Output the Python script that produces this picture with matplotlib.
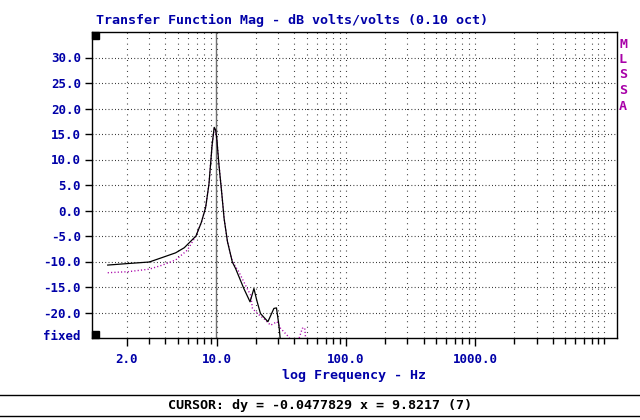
import matplotlib
matplotlib.use("Agg")
import matplotlib.pyplot as plt
import matplotlib.ticker as mticker
import numpy as np

# ---- data ----
freq_black = [1.43, 2.05, 3.0, 3.8, 4.8, 5.6, 6.9, 7.6, 8.2, 8.7, 9.2, 9.55, 9.8,
              10.0, 10.4, 10.9, 11.4, 12.1, 13.2, 14.0, 16.2, 18.1, 19.4, 20.4,
              21.8, 24.9, 27.7, 29.0, 30.3, 31.5]
mag_black = [-10.7, -10.4, -10.1, -9.2, -8.3, -7.3, -5.0, -2.3, 0.6, 5.2, 12.8, 16.3, 15.8,
             14.1, 8.9, 3.7, -1.6, -6.1, -10.1, -11.4, -15.3, -17.9, -15.3, -17.6,
             -20.2, -21.8, -19.2, -19.1, -22.5, -27.0]

freq_magenta = [1.43, 2.05, 3.0, 3.8, 4.8, 5.9, 6.9, 7.6, 8.2, 8.7, 9.2, 9.55, 9.8,
                10.0, 10.4, 10.9, 11.4, 12.1, 13.2, 14.8, 17.2, 18.3, 18.9, 20.6,
                23.2, 26.1, 29.3, 31.2, 36.1, 41.0, 46.0, 48.0, 49.5]
mag_magenta = [-12.2, -12.0, -11.5, -10.7, -9.7, -7.8, -5.0, -2.3, 0.6, 5.2, 12.8, 16.1, 15.6,
               14.0, 8.9, 3.7, -1.6, -6.1, -10.0, -12.0, -15.3, -16.6, -19.2, -20.2,
               -21.2, -22.5, -21.8, -23.1, -24.8, -27.0, -23.1, -23.0, -27.0]

cursor_x = 9.8217
y_ticks = [-20, -15, -10, -5, 0, 5, 10, 15, 20, 25, 30]
x_major = [2, 10, 100, 1000]
x_major_labels = ["2.0", "10.0", "100.0", "1000.0"]
x_limits = (1.08, 12600)
y_limits = (-25, 35)

BLUE = "#0000a8"
MAG = "#a800a8"
FONT = "DejaVu Sans Mono"

fig = plt.figure(figsize=(6.4, 4.2), dpi=100)
fig.patch.set_facecolor("white")
ax = fig.add_axes([92/640, 1-338/420, 525/640, 306/420])

ax.set_xscale("log")
ax.set_xlim(*x_limits)
ax.set_ylim(*y_limits)

# grid
minor_pos = [m * 10**d for d in range(0, 5) for m in range(2, 10)] + [10, 100, 1000, 10000]
for xv in minor_pos:
    if x_limits[0] < xv < x_limits[1]:
        ax.axvline(xv, color="black", lw=0.8, ls=(0, (0.7, 4.2)), zorder=1)
for yv in y_ticks:
    ax.axhline(yv, color="black", lw=0.8, ls=(0, (0.7, 2.2)), zorder=1)

# cursor line
ax.axvline(cursor_x, color="#707070", lw=1.0, zorder=2)

# data
ax.plot(freq_magenta, mag_magenta, color=MAG, lw=1.0, ls=(0, (0.8, 1.6)), zorder=3)
ax.plot(freq_black, mag_black, color="black", lw=0.9, zorder=4)

# ticks
ax.set_yticks(y_ticks)
ax.set_yticklabels([f"{v:.1f}" for v in y_ticks])
ax.xaxis.set_major_locator(mticker.FixedLocator(x_major))
ax.xaxis.set_major_formatter(mticker.FixedFormatter(x_major_labels))
minor_ticks = [m * 10**d for d in range(0, 5) for m in range(2, 10)] + [10000]
minor_ticks = [t for t in minor_ticks if t not in x_major and x_limits[0] < t < x_limits[1]]
ax.xaxis.set_minor_locator(mticker.FixedLocator(minor_ticks))
ax.xaxis.set_minor_formatter(mticker.NullFormatter())
ax.tick_params(axis="y", direction="out", length=5, width=1, color="black",
               labelcolor=BLUE, labelsize=9, pad=3)
ax.tick_params(axis="x", which="major", direction="out", length=6, width=1,
               labelcolor=BLUE, labelsize=9, pad=5)
ax.tick_params(axis="x", which="minor", direction="out", length=4, width=1)
for lab in ax.get_xticklabels() + ax.get_yticklabels():
    lab.set_fontfamily(FONT)
    lab.set_fontweight("bold")

for s in ax.spines.values():
    s.set_color("black")
    s.set_linewidth(1.0)

# corner squares
from matplotlib.patches import Rectangle
ax.add_patch(Rectangle((0, 1 - 7/306), 7/525, 7/306, transform=ax.transAxes,
                       color="black", zorder=6, clip_on=False))
ax.add_patch(Rectangle((0, 0), 7/525, 7/306, transform=ax.transAxes,
                       color="black", zorder=6, clip_on=False))

# "fixed" label
fig.text(80/640, 1-336/420, "fixed", color=BLUE, fontsize=9, fontfamily=FONT,
         fontweight="bold", ha="right", va="center")

# title
fig.text(96/640, 1-20/420, "Transfer Function Mag - dB volts/volts (0.10 oct)",
         color=BLUE, fontsize=9.6, fontfamily=FONT, fontweight="bold",
         ha="left", va="center")

# x label
fig.text(354/640, 1-376/420, "log Frequency - Hz", color=BLUE, fontsize=9.6,
         fontfamily=FONT, fontweight="bold", ha="center", va="center")

# MLSSA
for i, ch in enumerate("MLSSA"):
    fig.text(623/640, 1-(44 + i*15.5)/420, ch, color=MAG, fontsize=9.6,
             fontfamily=FONT, fontweight="bold", ha="center", va="center")

# bottom status bar
fig.add_artist(plt.Line2D([0, 1], [1-395/420, 1-395/420], color="black", lw=1.0,
                          transform=fig.transFigure))
fig.add_artist(plt.Line2D([0, 1], [1-416/420, 1-416/420], color="black", lw=1.0,
                          transform=fig.transFigure))
fig.text(0.5, 1-405/420, "CURSOR: dy = -0.0477829 x = 9.8217 (7)", color="black",
         fontsize=9.6, fontfamily=FONT, fontweight="bold", ha="center", va="center")

fig.savefig("out.png", dpi=100, facecolor="white")
